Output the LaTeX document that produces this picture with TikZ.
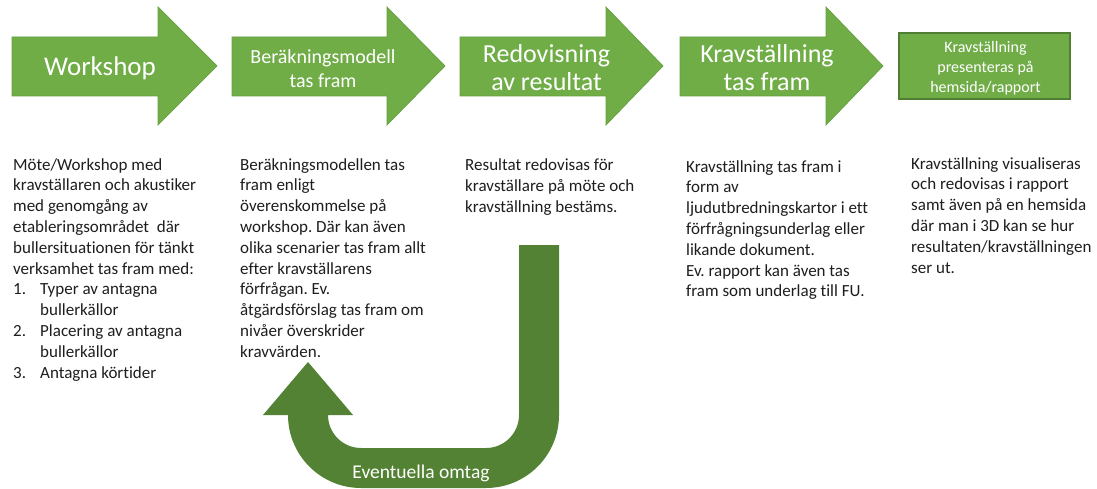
\documentclass[tikz,border=0pt]{standalone}
\usepackage{fontspec}
\setmainfont{Carlito}[Ligatures={NoCommon}]
\frenchspacing
\definecolor{arrowgreen}{HTML}{70AD47}
\definecolor{arrowedge}{HTML}{64A03D}
\definecolor{boxedge}{HTML}{507E32}
\definecolor{loopgreen}{HTML}{548235}
\definecolor{bodytext}{HTML}{1E1E1E}
\begin{document}
\begin{tikzpicture}[x=1pt,y=-1pt,
  bigarrow/.style={fill=arrowgreen,draw=arrowedge,line width=0.7pt,line join=miter},
  endbox/.style={fill=arrowgreen,draw=boxedge,line width=1.4pt},
  arrowlabel/.style={text=white,inner sep=0pt,anchor=base,align=center},
  bodylabel/.style={text=bodytext,inner sep=0pt,anchor=base west,align=left,
    font=\fontsize{17}{20.8}\selectfont},
  looparrow/.style={fill=loopgreen,draw=none}]
\useasboundingbox (0,0) rectangle (1097,489);
\fill[white] (0,0) rectangle (1097,489);

% --- top process arrows ---
\draw[bigarrow] (12,37) -- (158,37) -- (158,7) -- (217,66) -- (158,125) -- (158,96) -- (12,96) -- cycle;
\draw[bigarrow] (232,37) -- (387,37) -- (387,7) -- (445,66) -- (387,125) -- (387,96) -- (232,96) -- cycle;
\draw[bigarrow] (460,37) -- (606,37) -- (606,7) -- (663,66) -- (606,125) -- (606,96) -- (460,96) -- cycle;
\draw[bigarrow] (680,37) -- (826,37) -- (826,7) -- (883,66) -- (826,125) -- (826,96) -- (680,96) -- cycle;
\draw[endbox] (899,33) rectangle (1070,99);

% (base anchor of a multi-line node = baseline of its last line)
\node[arrowlabel,font=\fontsize{27}{30}\selectfont] (a1) at (100,76) {Workshop};
\node[arrowlabel,font=\fontsize{20}{24}\selectfont] (a2) at (323,88) {Beräkningsmodell\\tas fram};
\node[arrowlabel,font=\fontsize{26}{28}\selectfont] (a3) at (546.5,91) {Redovisning\\av resultat};
\node[arrowlabel,font=\fontsize{26}{28}\selectfont] (a4) at (767,91) {Kravställning\\tas fram};
\node[arrowlabel,font=\fontsize{16}{20}\selectfont] (a5) at (985.5,93) {Kravställning\\presenteras på\\hemsida/rapport};

% --- description texts ---
\node[bodylabel] (t1) at (13,378) {Möte/Workshop med\\kravställaren och akustiker\\med genomgång av\\etableringsområdet\ \ där\\bullersituationen för tänkt\\verksamhet tas fram med:\\\makebox[27pt][l]{1.}Typer av antagna\\\hspace*{27pt}bullerkällor\\\makebox[27pt][l]{2.}Placering av antagna\\\hspace*{27pt}bullerkällor\\\makebox[27pt][l]{3.}Antagna körtider};
\node[bodylabel] (t2) at (240,357.2) {Beräkningsmodellen tas\\fram enligt\\överenskommelse på\\workshop. Där kan även\\olika scenarier tas fram allt\\efter kravställarens\\förfrågan. Ev.\\åtgärdsförslag tas fram om\\nivåer överskrider\\kravvärden.};
\node[bodylabel] (t3) at (465,212.6) {Resultat redovisas för\\kravställare på möte och\\kravställning bestäms.};
\node[bodylabel] (t4) at (686,296.8) {Kravställning tas fram i\\form av\\ljudutbredningskartor i ett\\förfrågningsunderlag eller\\likande dokument.\\Ev. rapport kan även tas\\fram som underlag till FU.};
\node[bodylabel] (t5) at (911,273) {Kravställning visualiseras\\och redovisas i rapport\\samt även på en hemsida\\där man i 3D kan se hur\\resultaten/kravställningen\\ser ut.};

% --- loop-back arrow ---
\fill[looparrow] (519,245) -- (559,245) -- (559,415)
  .. controls (559,455.3) and (526.3,488) .. (486,488)
  -- (361,488)
  .. controls (320.7,488) and (288,455.3) .. (288,415)
  -- (263,415) -- (308,362) -- (353,415) -- (328,415)
  .. controls (328,433.2) and (342.8,448) .. (361,448)
  -- (486,448)
  .. controls (504.2,448) and (519,433.2) .. (519,415)
  -- cycle;
\node[arrowlabel,font=\fontsize{19.5}{22}\selectfont] (loop) at (421,478) {Eventuella omtag};
\end{tikzpicture}
\end{document}
